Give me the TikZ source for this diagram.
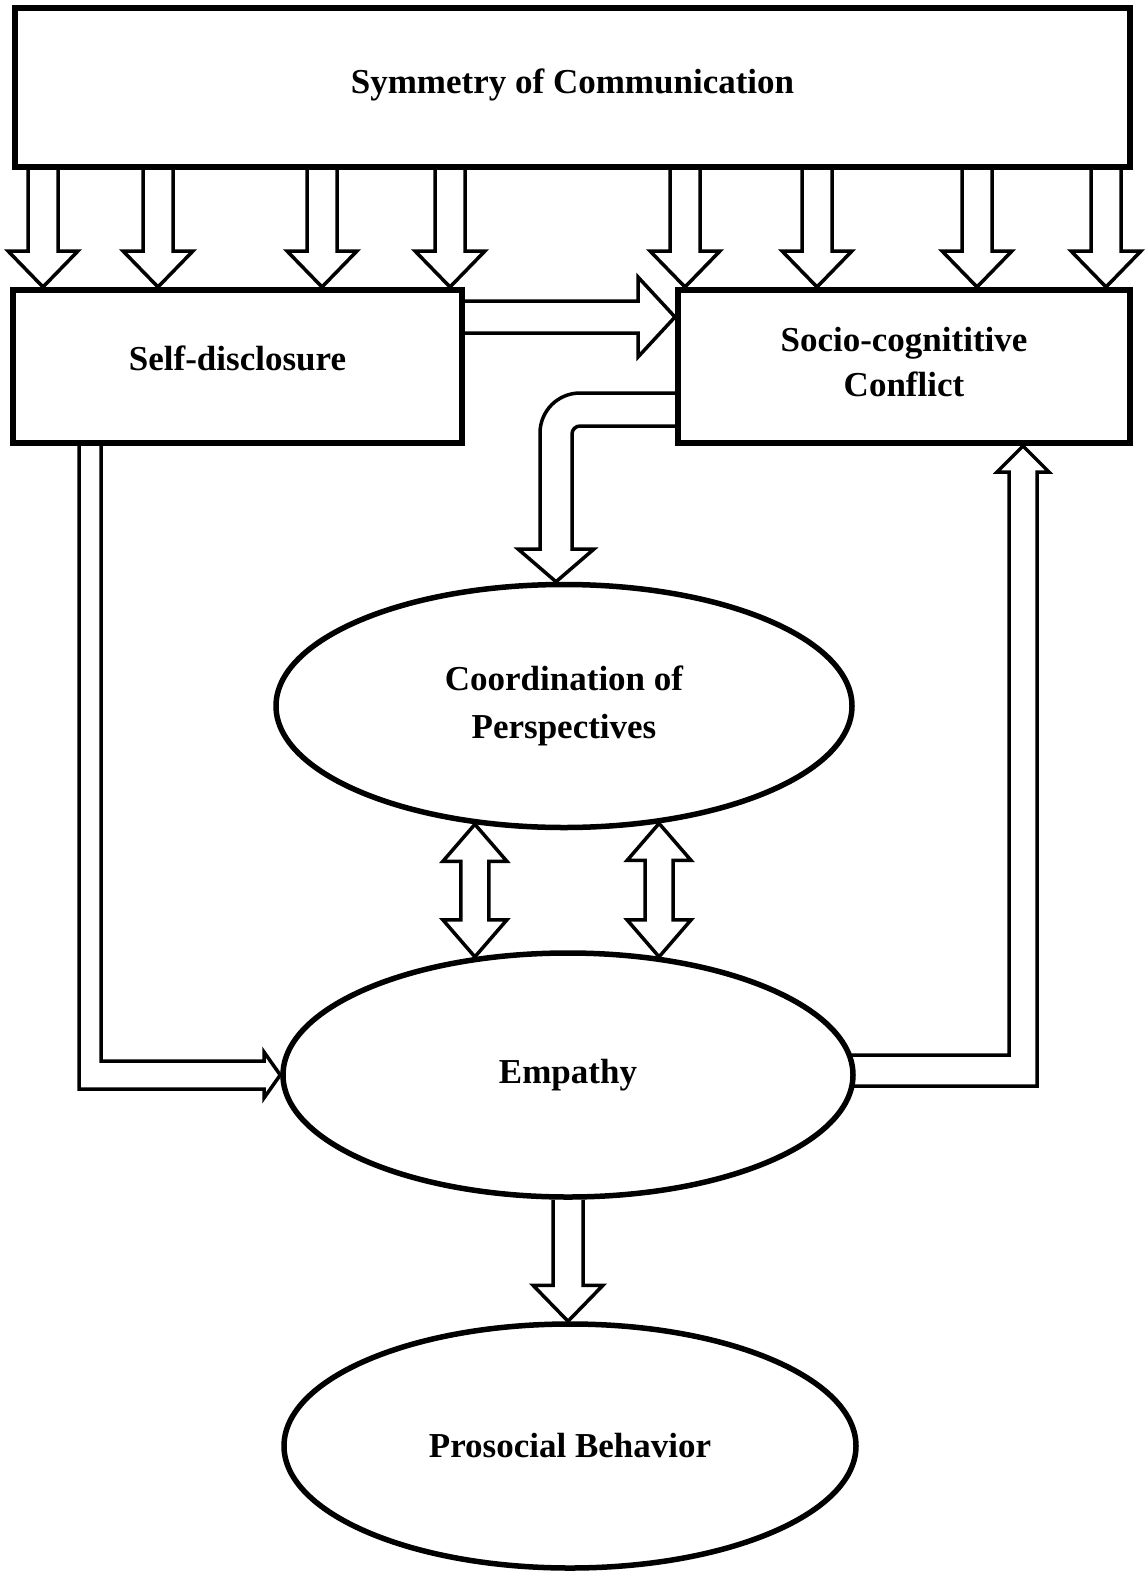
\documentclass[tikz,border=0pt]{standalone}
\usepackage{fontspec}
\setmainfont{Liberation Serif}
\usetikzlibrary{shapes.geometric,calc,backgrounds}

\tikzset{
  box/.style={draw, line width=6pt, fill=white, align=center, inner sep=0pt,
    font=\bfseries\fontsize{35}{45}\selectfont},
  oval/.style={ellipse, draw, line width=5.5pt, fill=white, align=center, inner sep=0pt,
    font=\bfseries\fontsize{35}{48}\selectfont},
  blockarr/.style={draw, line width=3.5pt, fill=white, line join=miter},
}

% 竖直空心箭头: 起点, 箭尖
\newcommand{\downblock}[2]{%
  \draw[blockarr] let \p1=(#1), \p2=(#2) in
    (\x2-15pt,\y1) -- (\x2-15pt,\y2+36pt) -- (\x2-35pt,\y2+36pt) -- (\x2,\y2)
    -- (\x2+35pt,\y2+36pt) -- (\x2+15pt,\y2+36pt) -- (\x2+15pt,\y1);}

% 双向空心箭头: 上箭尖, 下箭尖
\newcommand{\updownblock}[2]{%
  \draw[blockarr] let \p1=(#1), \p2=(#2) in
    (\x1,\y1) -- (\x1+32pt,\y1-37pt) -- (\x1+14pt,\y1-37pt) -- (\x1+14pt,\y2+37pt)
    -- (\x1+32pt,\y2+37pt) -- (\x1,\y2) -- (\x1-32pt,\y2+37pt) -- (\x1-14pt,\y2+37pt)
    -- (\x1-14pt,\y1-37pt) -- (\x1-32pt,\y1-37pt) -- cycle;}

\begin{document}
\begin{tikzpicture}[x=1pt, y=-1pt]
        \useasboundingbox (0,0) rectangle (1145,1573);

        % 方框
        \node[box, minimum width=1115pt, minimum height=159pt, text depth=12pt] (sym) at (572.5,87.5) {Symmetry of Communication};
        \node[box, minimum width=449pt, minimum height=153pt, text depth=16pt] (self) at (237.5,366.5) {Self-disclosure};
        \node[box, minimum width=452pt, minimum height=153pt, text depth=10pt] (socio) at (904,366.5) {Socio-cognititive\\Conflict};

        % 椭圆
        \node[oval, minimum width=576pt, minimum height=243pt] (coord) at (564,706) {Coordination of\\Perspectives};
        \node[oval, minimum width=570pt, minimum height=244pt] (emp) at (568,1075) {Empathy};
        \node[oval, minimum width=572pt, minimum height=244pt] (pro) at (570,1446) {Prosocial Behavior};

        \begin{scope}[on background layer]
        % 上方的八个箭头
        \foreach \xx in {43,158,322,450}{
          \coordinate (t) at (\xx,0);
          \downblock{t |- sym.south}{t |- self.north}
        }
        \foreach \xx in {685,817,977,1106}{
          \coordinate (t) at (\xx,0);
          \downblock{t |- sym.south}{t |- socio.north}
        }

        % 横向箭头
        \coordinate (h) at (0,317);
        \draw[blockarr] let \p1=(h -| self.east), \p2=(h -| socio.west) in
          (\x1,\y2+16pt) -- (\x2-37pt,\y2+16pt) -- (\x2-37pt,\y2+40pt) -- (\x2,\y2)
          -- (\x2-37pt,\y2-40pt) -- (\x2-37pt,\y2-16pt) -- (\x1,\y2-16pt);

        % 弯箭头
        \coordinate (t) at (556,0);
        \draw[blockarr] ([yshift=-26.5pt]socio.west) -- (580,393)
          arc[start angle=90, end angle=180, radius=40pt] -- (540,549)
          -- (518,549) -- (t |- coord.north) -- (594,549) -- (572,549) -- (572,434)
          arc[start angle=180, end angle=90, radius=8pt] -- ([yshift=-59.5pt]socio.west);

        % 双向箭头
        \updownblock{coord.233}{emp.128}
        \updownblock{coord.309}{emp.52}

        % 左边的L形箭头
        \coordinate (l1) at (79,0);
        \coordinate (l2) at (101,0);
        \draw[blockarr] (l1 |- self.south) -- (79,1089) -- (264,1089) -- (264,1098)
          -- (emp.west) -- (264,1052) -- (264,1061) -- (101,1061) -- (l2 |- self.south);

        % 右边的L形箭头
        \coordinate (r) at (1023,0);
        \draw[blockarr] ([xshift=-6pt,yshift=20pt]emp.east) -- (1009,1055) -- (1009,472)
          -- (997,472) -- (r |- socio.south) -- (1049,472) -- (1037,472) -- (1037,1086)
          -- ([xshift=-6pt,yshift=-11pt]emp.east);

        % 下方箭头
        \coordinate (t) at (568,0);
        \downblock{t |- emp.south}{t |- pro.north}
        \end{scope}
\end{tikzpicture}
\end{document}
